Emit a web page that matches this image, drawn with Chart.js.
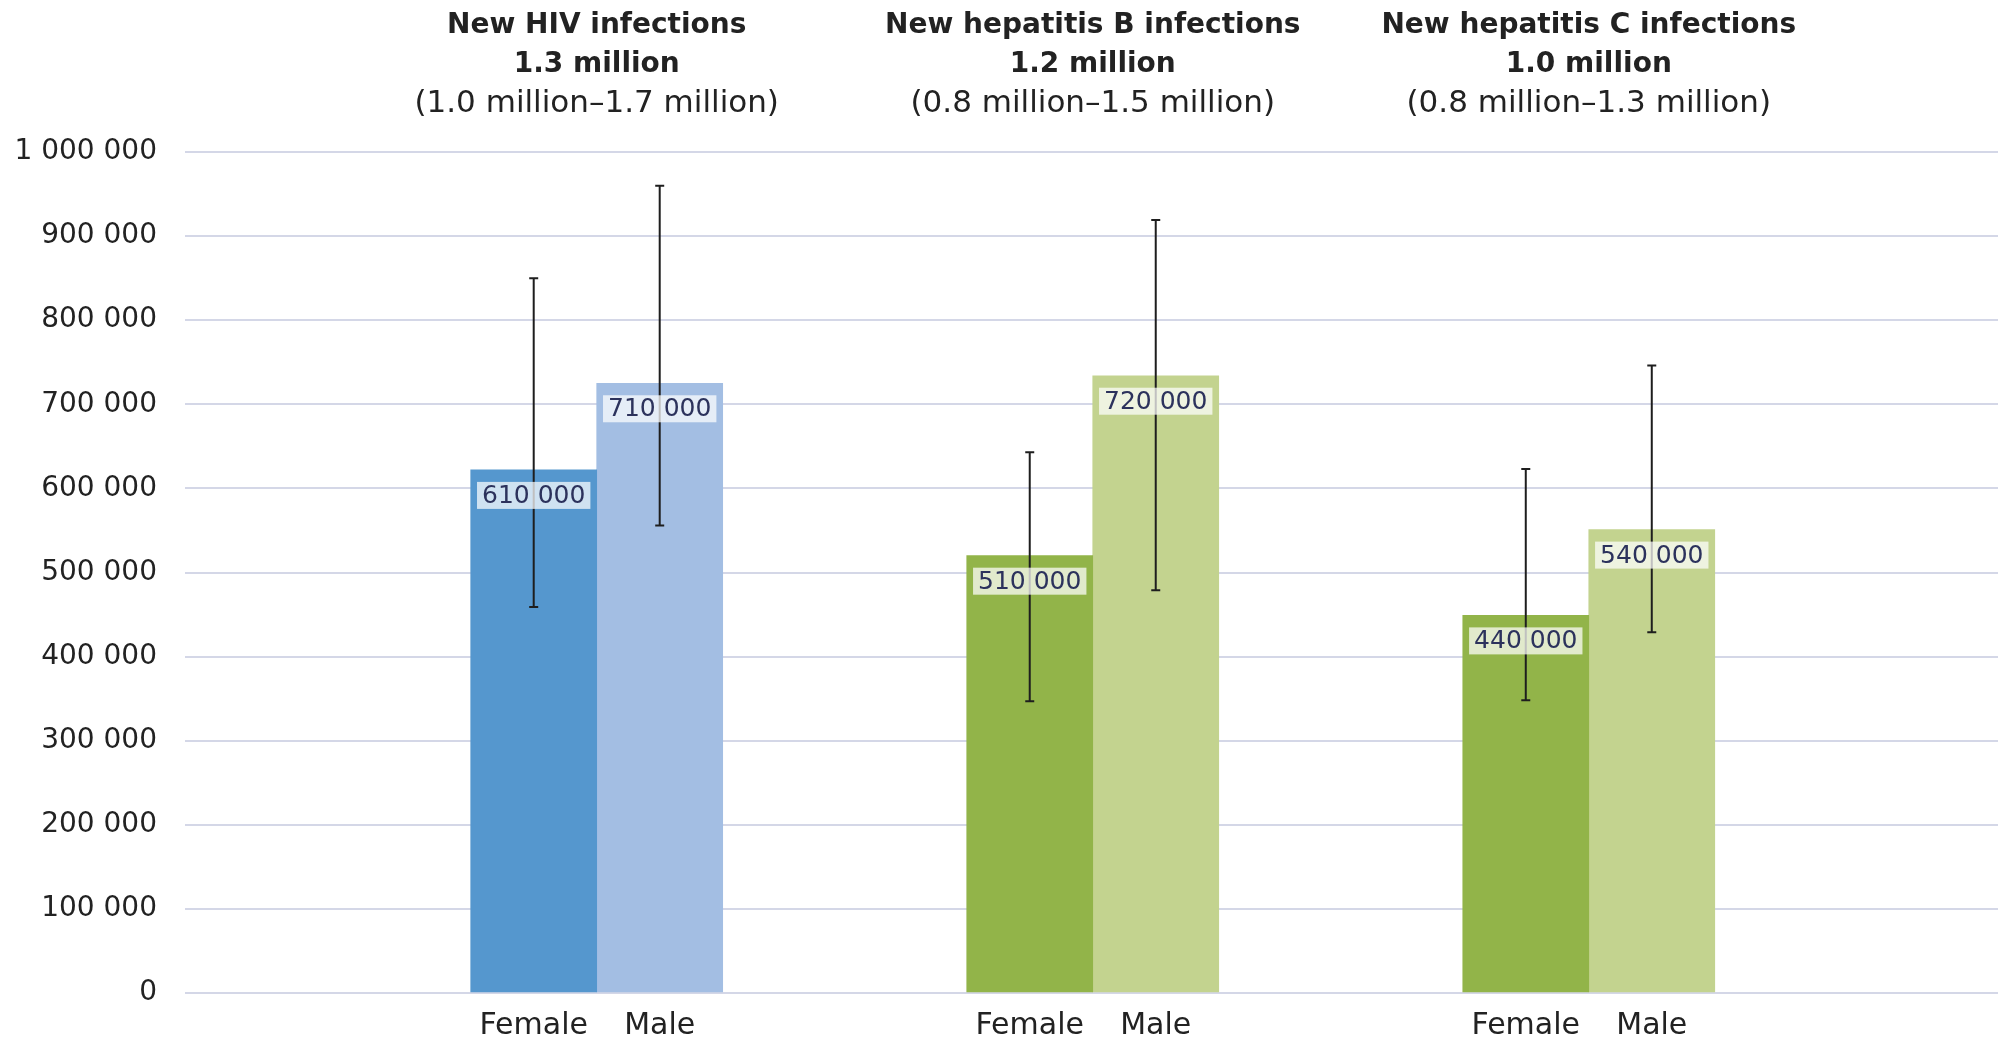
<!DOCTYPE html>
<html>
<head>
<meta charset="utf-8">
<script src="https://cdn.jsdelivr.net/npm/chart.js@4.4.1/dist/chart.umd.min.js"></script>
<style>
  html, body { margin: 0; padding: 0; background: #fff; }
  #wrap { width: 1998px; height: 1038px; }
</style>
</head>
<body>
<div id="wrap"><canvas id="infections-chart"></canvas></div>
<script>
// Groups (one per infection type)
const groupTitles = ['New HIV infections', 'New hepatitis B infections', 'New hepatitis C infections'];
const groupTotals = ['1.3 million', '1.2 million', '1.0 million'];
const groupRanges = ['(1.0 million\u20131.7 million)', '(0.8 million\u20131.5 million)', '(0.8 million\u20131.3 million)'];
const sexLabels = ['Female', 'Male'];

// Bar heights as drawn in the picture
const femaleValues = [622000, 520000, 449000];
const maleValues = [725000, 734000, 551000];

// Printed value labels
const femaleLabels = ['610 000', '510 000', '440 000'];
const maleLabels = ['710 000', '720 000', '540 000'];

// Uncertainty ranges (error bars)
const femaleLow = [459000, 347000, 348000];
const femaleHigh = [850000, 643000, 623000];
const maleLow = [556000, 479000, 429000];
const maleHigh = [960000, 919000, 746000];

// Y axis
const yMin = 0;
const yMax = 1000000;
const yStep = 100000;

const femaleColors = ['#5597ce', '#92b449', '#92b449'];
const maleColors = ['#a3bee3', '#c3d38f', '#c3d38f'];

function formatThousands(v) {
    return String(v).replace(/\B(?=(\d{3})+(?!\d))/g, ' ');
}

// Error bars + value labels drawn on top of bars
const barExtras = {
    id: 'barExtras',
    afterDatasetsDraw(chart) {
        const ctx = chart.ctx;
        const y = chart.scales.y;
        const lows = [femaleLow, maleLow];
        const highs = [femaleHigh, maleHigh];
        const labels = [femaleLabels, maleLabels];

        ctx.save();
        // error bars
        ctx.strokeStyle = '#1e1e1e';
        ctx.lineWidth = 2;
        chart.data.datasets.forEach((ds, d) => {
            const meta = chart.getDatasetMeta(d);
            meta.data.forEach((bar, i) => {
                const yLo = y.getPixelForValue(lows[d][i]);
                const yHi = y.getPixelForValue(highs[d][i]);
                ctx.beginPath();
                ctx.moveTo(bar.x, yHi);
                ctx.lineTo(bar.x, yLo);
                ctx.moveTo(bar.x - 4.5, yHi);
                ctx.lineTo(bar.x + 4.5, yHi);
                ctx.moveTo(bar.x - 4.5, yLo);
                ctx.lineTo(bar.x + 4.5, yLo);
                ctx.stroke();
            });
        });

        // value labels with pale boxes
        ctx.font = '25px "DejaVu Sans"';
        ctx.textAlign = 'center';
        ctx.textBaseline = 'middle';
        chart.data.datasets.forEach((ds, d) => {
            const meta = chart.getDatasetMeta(d);
            meta.data.forEach((bar, i) => {
                const text = labels[d][i];
                const w = ctx.measureText(text).width + 10;
                const h = 27;
                const top = bar.y + 12;
                ctx.fillStyle = 'rgba(255,255,255,0.72)';
                ctx.fillRect(bar.x - w / 2, top, w, h);
                ctx.fillStyle = '#2c325c';
                ctx.fillText(text, bar.x, top + h / 2 + 1);
            });
        });
        ctx.restore();
    }
};

// Group headings at top and Female / Male under each bar
const groupText = {
    id: 'groupText',
    afterDraw(chart) {
        const ctx = chart.ctx;
        const x = chart.scales.x;
        const area = chart.chartArea;
        ctx.save();
        ctx.fillStyle = '#222222';
        ctx.textAlign = 'center';
        ctx.textBaseline = 'alphabetic';
        groupTitles.forEach((title, i) => {
            const cx = x.getPixelForValue(i + 1);
            ctx.font = 'bold 28px "DejaVu Sans"';
            ctx.fillText(title, cx, 33);
            ctx.fillText(groupTotals[i], cx, 72);
            ctx.font = '31px "DejaVu Sans"';
            ctx.fillText(groupRanges[i], cx, 112);
        });

        ctx.font = '30px "DejaVu Sans"';
        ctx.textBaseline = 'middle';
        chart.data.datasets.forEach((ds, d) => {
            const meta = chart.getDatasetMeta(d);
            meta.data.forEach((bar) => {
                ctx.fillText(sexLabels[d], bar.x, area.bottom + 33);
            });
        });
        ctx.restore();
    }
};

function renderChart() {
    const ctx = document.getElementById('infections-chart').getContext('2d');

    new Chart(ctx, {
        type: 'bar',
        data: {
            datasets: [{
                label: sexLabels[0],
                data: femaleValues.map((v, i) => ({ x: i + 1, y: v })),
                backgroundColor: femaleColors,
                borderWidth: 0
            }, {
                label: sexLabels[1],
                data: maleValues.map((v, i) => ({ x: i + 1, y: v })),
                backgroundColor: maleColors,
                borderWidth: 0
            }]
        },
        options: {
            responsive: true,
            maintainAspectRatio: false,
            animation: false,
            barThickness: 126,
            layout: {
                padding: { top: 152, bottom: 45, left: 0, right: 0 }
            },
            plugins: {
                legend: { display: false },
                tooltip: { enabled: false }
            },
            scales: {
                x: {
                    type: 'linear',
                    display: false,
                    offset: false,
                    min: 0.17,
                    max: 3.825
                },
                y: {
                    min: yMin,
                    max: yMax,
                    border: { display: false },
                    grid: {
                        color: '#d4d7e7',
                        lineWidth: 2,
                        drawTicks: false
                    },
                    ticks: {
                        stepSize: yStep,
                        padding: 28,
                        color: '#222222',
                        font: { family: 'DejaVu Sans', size: 28 },
                        callback: (v) => formatThousands(v)
                    },
                    afterFit: (scale) => { scale.width = 185; }
                }
            }
        },
        plugins: [barExtras, groupText]
    });
}

document.addEventListener('DOMContentLoaded', renderChart);
</script>
</body>
</html>
